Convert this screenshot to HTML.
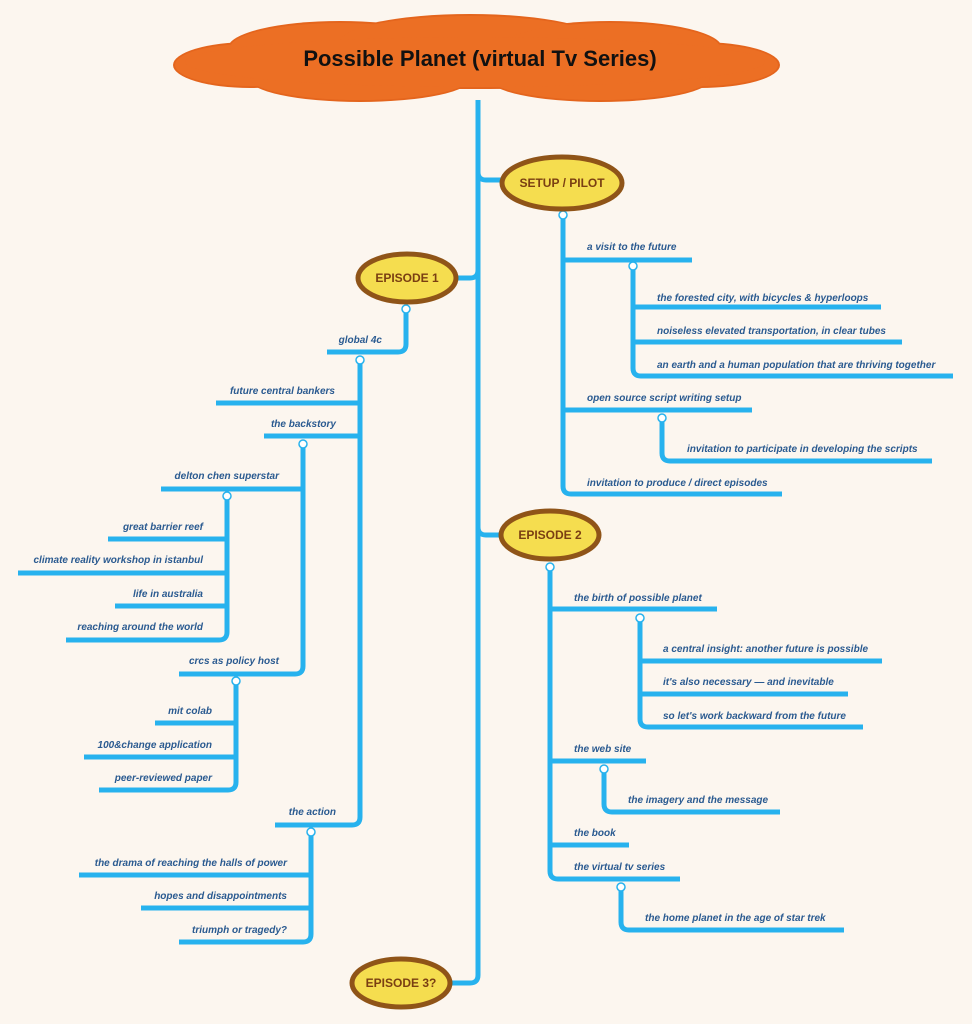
<!DOCTYPE html>
<html><head><meta charset="utf-8"><style>
body{margin:0;background:#fcf6ef;}
svg{display:block}
.t{font-family:"Liberation Sans",sans-serif;font-style:italic;font-weight:bold;font-size:10px;fill:#2a5a90;}
.l{stroke:#27b2ee;stroke-width:5;fill:none;stroke-linecap:butt;stroke-linejoin:round}
.c{fill:#fff;stroke:#27b2ee;stroke-width:1.5}
.e{fill:#f5dd4f;stroke:#8f5418;stroke-width:5}
.et{font-family:"Liberation Sans",sans-serif;font-weight:bold;font-size:12px;fill:#7a3f12;text-anchor:middle}
</style></head><body>
<svg width="972" height="1024" viewBox="0 0 972 1024">
<rect width="972" height="1024" fill="#fcf6ef"/>
<!-- cloud -->
<g fill="#e4651d">
<ellipse cx="250" cy="65" rx="77" ry="23"/>
<ellipse cx="700" cy="65" rx="80" ry="23"/>
<ellipse cx="340" cy="48" rx="112" ry="27"/>
<ellipse cx="470" cy="42" rx="132" ry="28"/>
<ellipse cx="610" cy="48" rx="112" ry="27"/>
<ellipse cx="360" cy="78" rx="112" ry="24"/>
<ellipse cx="600" cy="78" rx="112" ry="24"/>
<ellipse cx="475" cy="62" rx="292" ry="27"/>
</g>
<g fill="#ec6f24">
<ellipse cx="250" cy="65" rx="75" ry="21"/>
<ellipse cx="700" cy="65" rx="78" ry="21"/>
<ellipse cx="340" cy="48" rx="110" ry="25"/>
<ellipse cx="470" cy="42" rx="130" ry="26"/>
<ellipse cx="610" cy="48" rx="110" ry="25"/>
<ellipse cx="360" cy="78" rx="110" ry="22"/>
<ellipse cx="600" cy="78" rx="110" ry="22"/>
<ellipse cx="475" cy="62" rx="290" ry="25"/>
</g>
<text x="480" y="66" text-anchor="middle" font-family="Liberation Sans,sans-serif" font-weight="bold" font-size="22" fill="#111">Possible Planet (virtual Tv Series)</text>

<!-- trunk -->
<path class="l" d="M478 100 V975 Q478 983 470 983 H452"/>
<path class="l" d="M478 172 Q478 180 486 180 H502"/>
<path class="l" d="M478 270 Q478 278 470 278 H456"/>
<path class="l" d="M478 527 Q478 535 486 535 H502"/>

<!-- setup subtree -->
<path class="l" d="M563 215 V486 Q563 494 571 494 H782"/>
<path class="l" d="M563 260 H692"/>
<path class="l" d="M633 268 V368 Q633 376 641 376 H953"/>
<path class="l" d="M633 307 H881 M633 342 H902"/>
<path class="l" d="M563 410 H752"/>
<path class="l" d="M662 418 V453 Q662 461 670 461 H932"/>
<circle class="c" cx="563" cy="215" r="4"/><circle class="c" cx="633" cy="266" r="4"/><circle class="c" cx="662" cy="418" r="4"/>
<text class="t" x="587" y="250">a visit to the future</text>
<text class="t" x="657" y="301">the forested city, with bicycles &amp; hyperloops</text>
<text class="t" x="657" y="334">noiseless elevated transportation, in clear tubes</text>
<text class="t" x="657" y="368">an earth and a human population that are thriving together</text>
<text class="t" x="587" y="401">open source script writing setup</text>
<text class="t" x="687" y="452">invitation to participate in developing the scripts</text>
<text class="t" x="587" y="486">invitation to produce / direct episodes</text>

<!-- episode 2 subtree -->
<path class="l" d="M550 567 V871 Q550 879 558 879 H680"/>
<path class="l" d="M550 609 H717"/>
<path class="l" d="M640 618 V719 Q640 727 648 727 H863"/>
<path class="l" d="M640 661 H882 M640 694 H848"/>
<path class="l" d="M550 761 H646"/>
<path class="l" d="M604 769 V804 Q604 812 612 812 H780"/>
<path class="l" d="M550 845 H629"/>
<path class="l" d="M621 887 V922 Q621 930 629 930 H844"/>
<circle class="c" cx="550" cy="567" r="4"/><circle class="c" cx="640" cy="618" r="4"/><circle class="c" cx="604" cy="769" r="4"/><circle class="c" cx="621" cy="887" r="4"/>
<text class="t" x="574" y="601">the birth of possible planet</text>
<text class="t" x="663" y="652">a central insight: another future is possible</text>
<text class="t" x="663" y="685">it's also necessary — and inevitable</text>
<text class="t" x="663" y="719">so let's work backward from the future</text>
<text class="t" x="574" y="752">the web site</text>
<text class="t" x="628" y="803">the imagery and the message</text>
<text class="t" x="574" y="836">the book</text>
<text class="t" x="574" y="870">the virtual tv series</text>
<text class="t" x="645" y="921">the home planet in the age of star trek</text>

<!-- episode 1 subtree -->
<path class="l" d="M406 309 V344 Q406 352 398 352 H327"/>
<path class="l" d="M360 360 V817 Q360 825 352 825 H275"/>
<path class="l" d="M360 403 H216"/>
<path class="l" d="M360 436 H264"/>
<path class="l" d="M303 444 V666 Q303 674 295 674 H179"/>
<path class="l" d="M303 489 H161"/>
<path class="l" d="M227 496 V632 Q227 640 219 640 H66"/>
<path class="l" d="M227 539 H108 M227 573 H18 M227 606 H115"/>
<path class="l" d="M236 681 V782 Q236 790 228 790 H99"/>
<path class="l" d="M236 723 H155 M236 757 H84"/>
<path class="l" d="M311 832 V934 Q311 942 303 942 H179"/>
<path class="l" d="M311 875 H79 M311 908 H141"/>
<circle class="c" cx="406" cy="309" r="4"/><circle class="c" cx="360" cy="360" r="4"/><circle class="c" cx="303" cy="444" r="4"/><circle class="c" cx="227" cy="496" r="4"/><circle class="c" cx="236" cy="681" r="4"/><circle class="c" cx="311" cy="832" r="4"/>
<text class="t" text-anchor="end" x="382" y="343">global 4c</text>
<text class="t" text-anchor="end" x="335" y="394">future central bankers</text>
<text class="t" text-anchor="end" x="336" y="427">the backstory</text>
<text class="t" text-anchor="end" x="279" y="479">delton chen superstar</text>
<text class="t" text-anchor="end" x="203" y="530">great barrier reef</text>
<text class="t" text-anchor="end" x="203" y="563">climate reality workshop in istanbul</text>
<text class="t" text-anchor="end" x="203" y="597">life in australia</text>
<text class="t" text-anchor="end" x="203" y="630">reaching around the world</text>
<text class="t" text-anchor="end" x="279" y="664">crcs as policy host</text>
<text class="t" text-anchor="end" x="212" y="714">mit colab</text>
<text class="t" text-anchor="end" x="212" y="748">100&amp;change application</text>
<text class="t" text-anchor="end" x="212" y="781">peer-reviewed paper</text>
<text class="t" text-anchor="end" x="336" y="815">the action</text>
<text class="t" text-anchor="end" x="287" y="866">the drama of reaching the halls of power</text>
<text class="t" text-anchor="end" x="287" y="899">hopes and disappointments</text>
<text class="t" text-anchor="end" x="287" y="933">triumph or tragedy?</text>

<!-- episode ellipses -->
<ellipse class="e" cx="562" cy="183" rx="60" ry="26"/>
<text class="et" x="562" y="187">SETUP / PILOT</text>
<ellipse class="e" cx="407" cy="278" rx="49" ry="24"/>
<text class="et" x="407" y="282">EPISODE 1</text>
<ellipse class="e" cx="550" cy="535" rx="49" ry="24"/>
<text class="et" x="550" y="539">EPISODE 2</text>
<ellipse class="e" cx="401" cy="983" rx="49" ry="24"/>
<text class="et" x="401" y="987">EPISODE 3?</text>
</svg>
</body></html>
